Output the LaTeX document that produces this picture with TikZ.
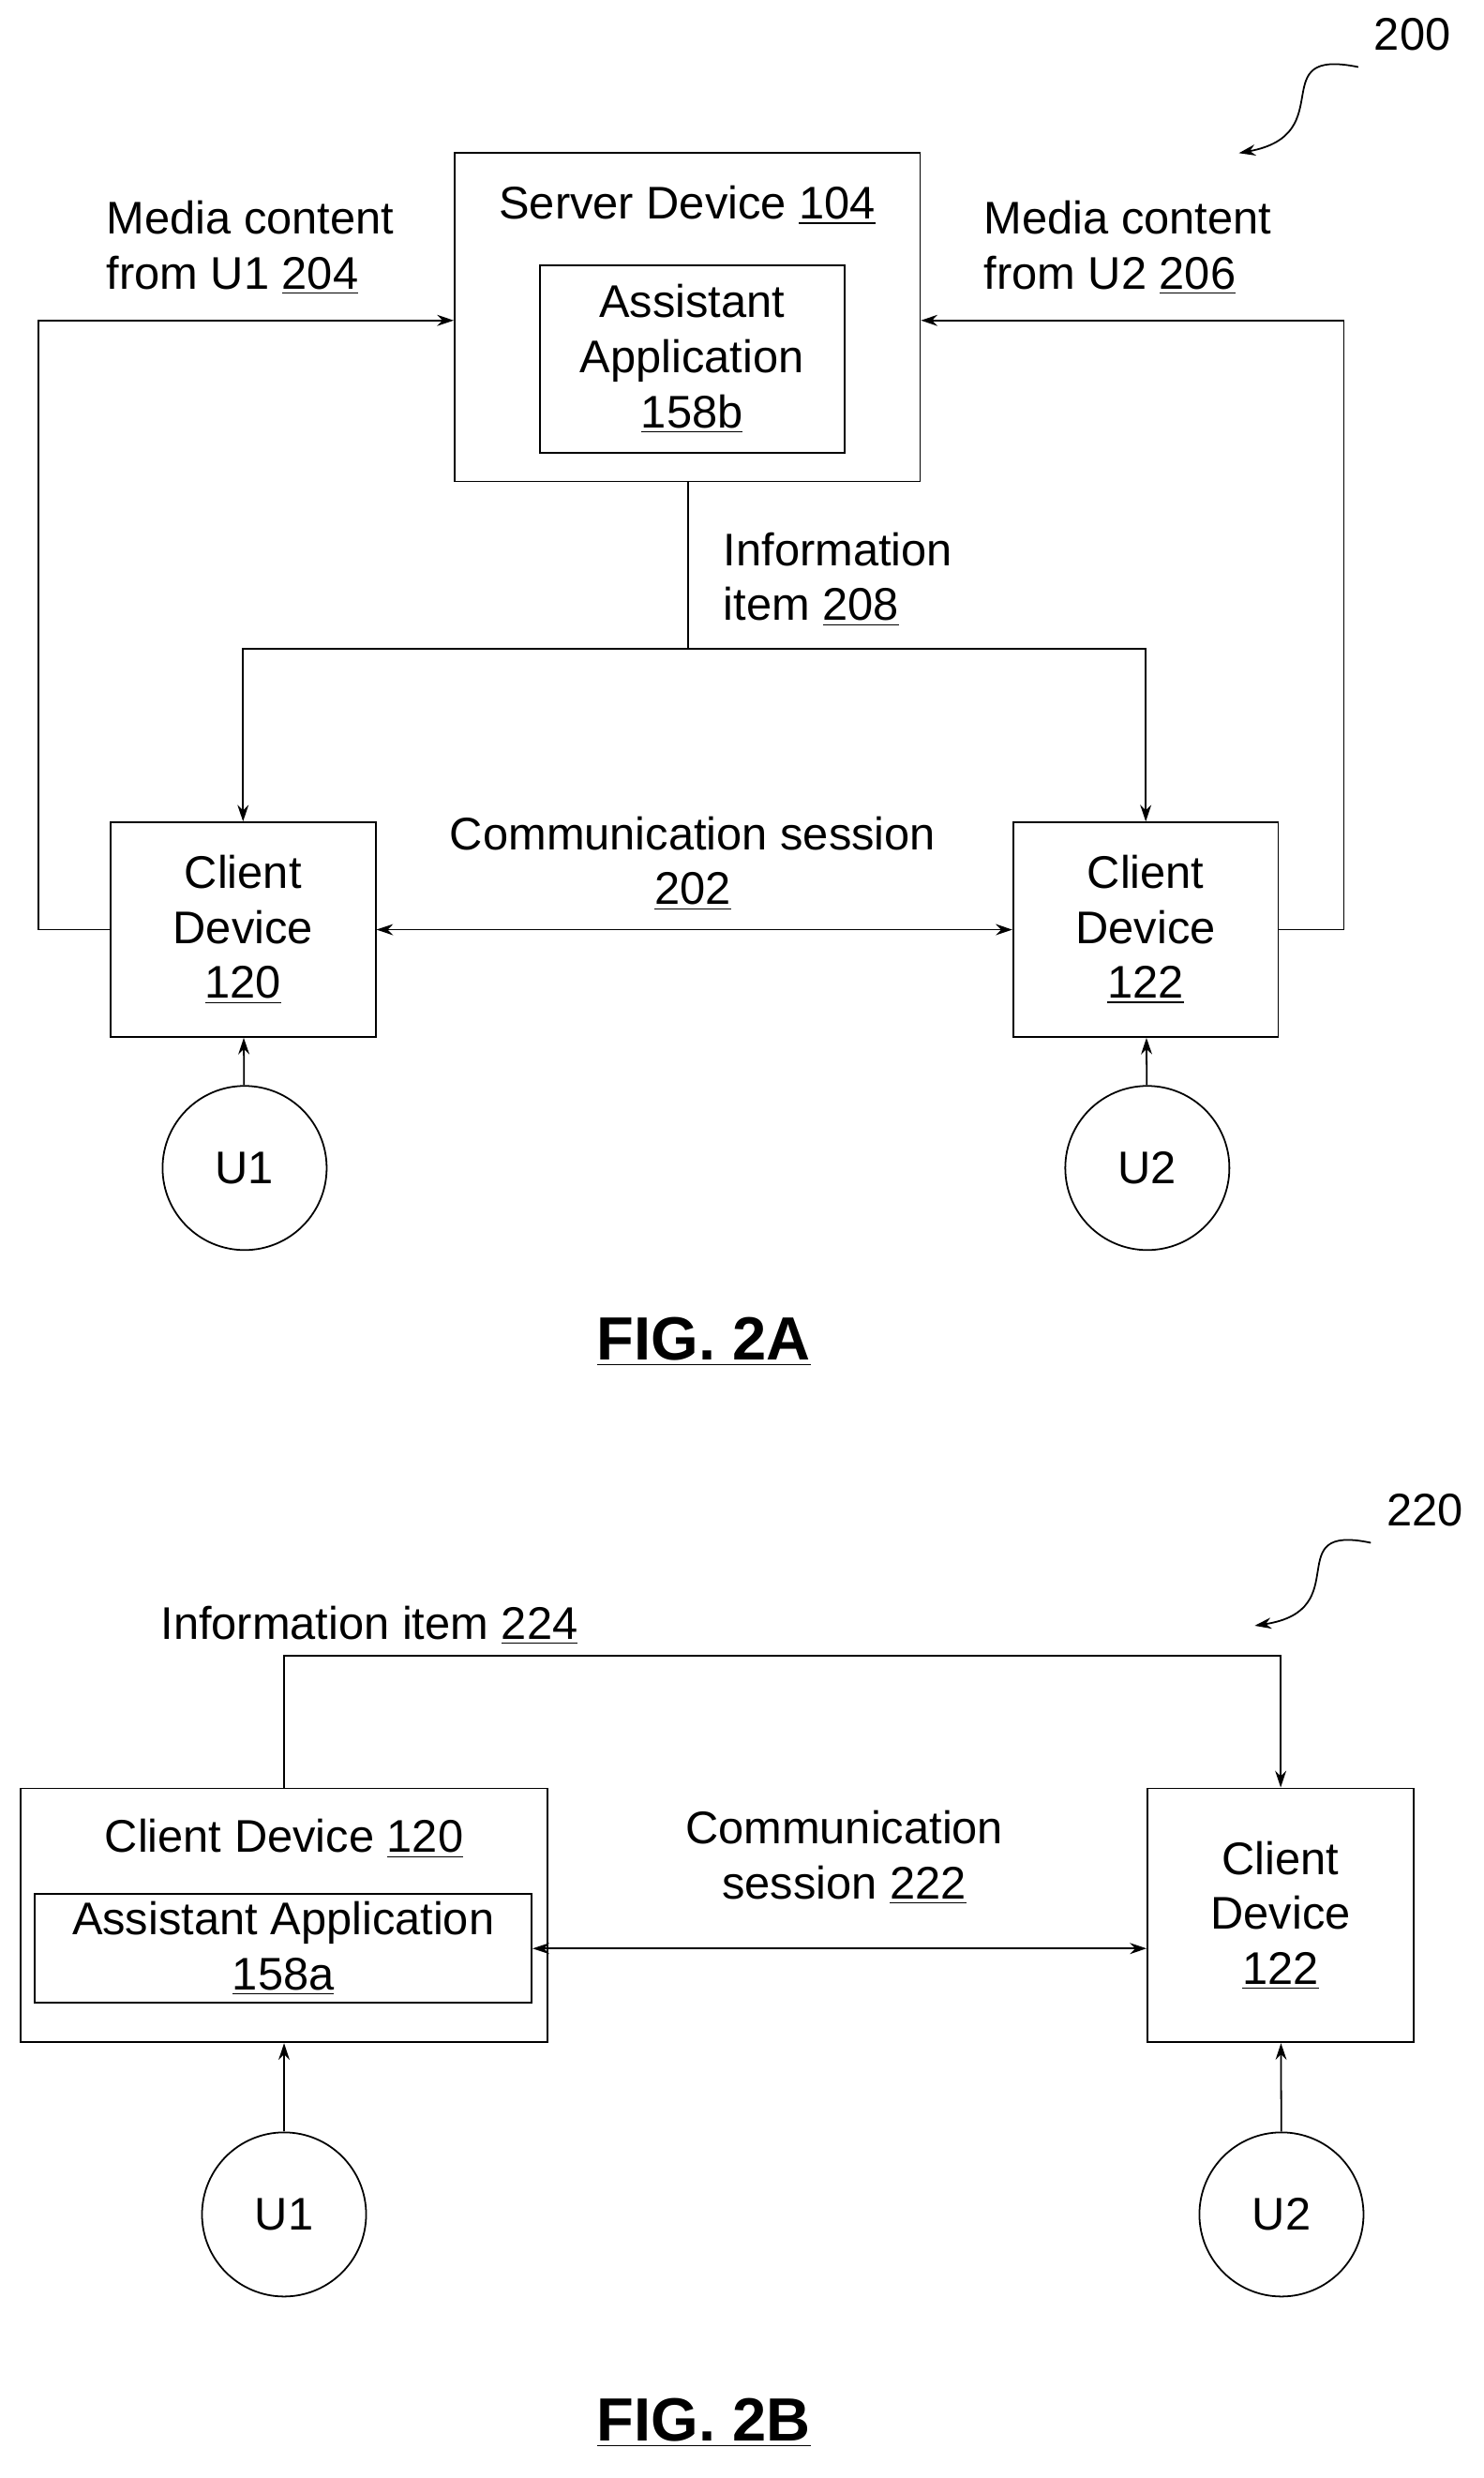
\documentclass[tikz,border=0pt]{standalone}
\usepackage{fontspec}
\setmainfont{Liberation Sans}
\usetikzlibrary{arrows.meta,positioning}
\begin{document}
\fontsize{16.5}{19.8}\selectfont
\begin{tikzpicture}[x=0.02cm,y=-0.02cm,>={Stealth[length=6pt,width=4pt]},semithick,
box/.style={draw,rectangle,inner sep=0pt},
user/.style={draw,circle,minimum size=2.08cm,inner sep=0pt},
lbl/.style={align=left,anchor=west,inner sep=0pt},
fig/.style={font=\fontsize{22}{26}\selectfont\bfseries}]
\useasboundingbox (0,0) rectangle (940,1570);
% FIG. 2A
\node[box,minimum width=5.9cm,minimum height=4.16cm] (S) at (435.5,201) {};
\node (Stit) at (435.5,130) {Server Device \underline{104}};
\node[box,minimum width=3.86cm,minimum height=2.38cm,align=center] (AA) at (438.5,227.5) {Assistant\\Application\\\underline{158b}};
\node[box,minimum width=3.36cm,minimum height=2.72cm,align=center] (C1) at (154,589) {Client\\Device\\\underline{120}};
\node[box,minimum width=3.36cm,minimum height=2.72cm,align=center] (C2) at (726,589) {Client\\Device\\\underline{122}};
\node[user] (U1) at (155,740) {U1};
\node[user] (U2) at (727,740) {U2};
\draw[->] (U1) -- (C1);
\draw[->] (U2) -- (C2);
\coordinate (split) at (436,411);
\draw (S.south -| split) -- (split);
\draw[->] (split) -| (C1.north);
\draw[->] (split) -| (C2.north);
\draw[->] (C1.west) -- ++(-45,0) |- (S.west |- 0,203);
\draw[->] (C2.east) -- ++(41,0) |- (S.east |- 0,203);
\draw[<->] (C1) -- (C2);
\node[lbl] (m1) at (67,157) {Media content\\from U1 \underline{204}};
\node[lbl] (m2) at (623,157) {Media content\\from U2 \underline{206}};
\node[lbl] (inf) at (458,367) {Information\\item \underline{208}};
\node[align=center] (cs) at (439,547) {Communication session\\\underline{202}};
\node (n200) at (895,22) {200};
\coordinate (t200) at (785,97);
\draw[->] (n200.south west) .. controls (800,30) and (850,85) .. (t200);
\node[fig] (f2a) at (446,850) {\underline{FIG. 2A}};
% FIG. 2B
\node[box,minimum width=6.68cm,minimum height=3.22cm] (D1) at (180,1213.5) {};
\node (D1tit) at (180,1165) {Client Device \underline{120}};
\node[box,minimum width=6.3cm,minimum height=1.38cm,align=center] (AB) at (179.5,1234.5) {Assistant Application\\\underline{158a}};
\node[box,minimum width=3.38cm,minimum height=3.22cm,align=center] (D2) at (811.5,1213.5) {Client\\Device\\\underline{122}};
\node[user] (V1) at (180,1403) {U1};
\node[user] (V2) at (812,1403) {U2};
\draw[->] (V1) -- (D1);
\draw[->] (V2) -- (D2);
\draw[->] (D1.north -| V1) -- (180,1049) -| (D2.north);
\draw[<->] (AB.east) -- (D2.west |- AB.east);
\node (inf2) at (234,1030) {Information item \underline{224}};
\node[align=center] (cs2) at (535,1177) {Communication\\session \underline{222}};
\node (n220) at (903,957) {220};
\coordinate (t220) at (795,1030);
\draw[->] (n220.south west) .. controls (810,965) and (860,1020) .. (t220);
\node[fig] (f2b) at (446,1535) {\underline{FIG. 2B}};
\end{tikzpicture}
\end{document}
